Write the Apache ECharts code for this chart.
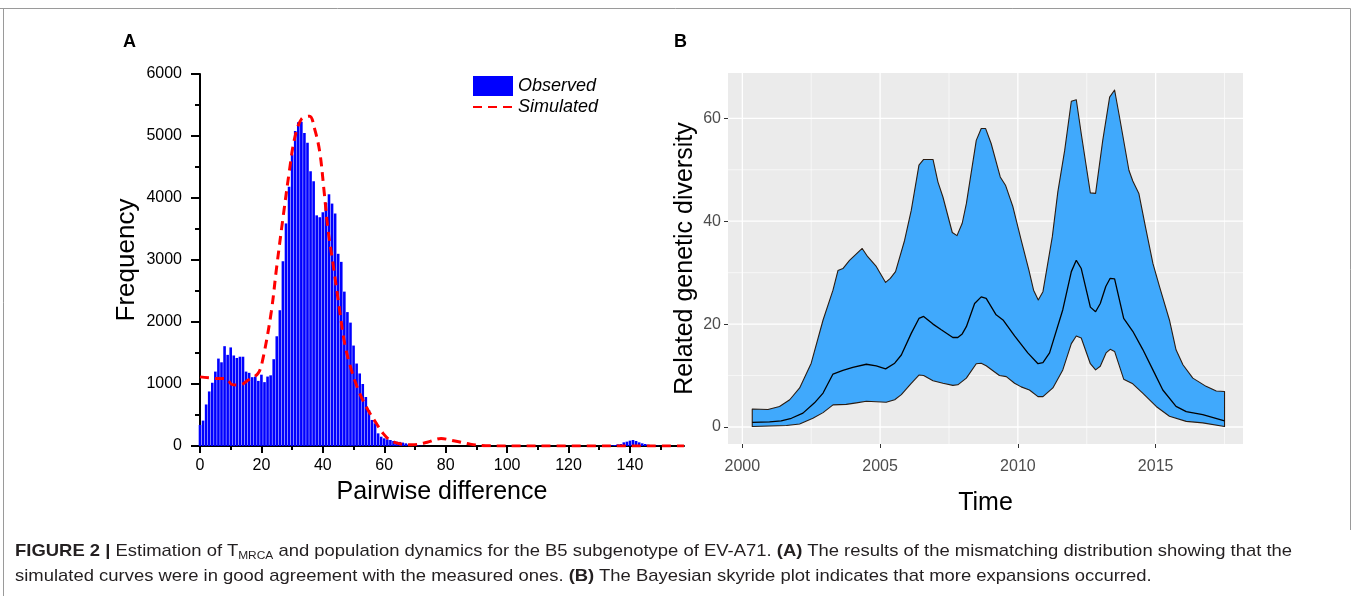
<!DOCTYPE html>
<html><head><meta charset="utf-8">
<script src="https://cdn.jsdelivr.net/npm/echarts@6/dist/echarts.min.js"></script>
<style>
html,body{margin:0;padding:0;background:#fff;width:1360px;height:596px;overflow:hidden;}
#chart{position:absolute;left:0;top:0;width:1360px;height:596px;}
.cap{position:absolute;left:15px;font-family:"Liberation Sans",Arial,sans-serif;font-size:17px;color:#231f20;white-space:nowrap;transform-origin:0 0;}
.cap sub{font-size:11px;vertical-align:-3px;line-height:0;}
</style></head><body>
<div id="chart"></div>
<div class="cap" id="cap1" style="top:541px"><b>FIGURE 2 |</b> Estimation of T<sub>MRCA</sub> and population dynamics for the B5 subgenotype of EV-A71. <b>(A)</b> The results of the mismatching distribution showing that the</div>
<div class="cap" id="cap2" style="top:566px">simulated curves were in good agreement with the measured ones. <b>(B)</b> The Bayesian skyride plot indicates that more expansions occurred.</div>
<script>
// ---------- Panel A data ----------
const pairwiseDiff = [0,1,2,3,4,5,6,7,8,9,10,11,12,13,14,15,16,17,18,19,20,21,22,23,24,25,26,27,28,29,30,31,32,33,34,35,36,37,38,39,40,41,42,43,44,45,46,47,48,49,50,51,52,53,54,55,56,57,58,59,60,61,62,63,64,65,66,67,68,69,70,71,72,
  133,134,135,136,137,138,139,140,141,142,143,144,145,146,147,148,149];
const observedFreq = [340,410,670,880,1020,1200,1410,1350,1610,1470,1590,1460,1420,1440,1440,1200,1180,1110,1120,1050,1150,1030,1120,1140,1400,1770,2190,2980,3590,4180,4700,5080,5220,5230,5050,4890,4430,4270,3720,3690,3770,3920,4060,3910,3750,3100,2970,2490,2160,1990,1620,1330,1170,1000,790,580,420,366,204,150,124,108,97,81,70,66,55,43,32,24,16,8,4,
  5,10,16,27,32,59,70,86,97,81,59,43,32,22,14,8,4];
const simDiff = [0,5,8.5,10.5,13,15.6,18.9,20.5,23.2,24.9,27,29.2,30.8,33,35.7,37.3,39,40.4,41.7,43.3,45,47.1,49.3,52,54.7,57.4,59.6,62,65,69,74,78.5,83,88,93,100,157.6];
const simFreq = [1115,1090,1085,990,985,1060,1170,1410,2160,2860,3670,4470,4960,5270,5320,5120,4740,4110,3480,2946,2355,1656,1226,849,581,366,204,90,35,20,60,120,80,30,5,0,0];
const diffMajorTicks = [0,20,40,60,80,100,120,140];
const diffMinorTicks = [10,30,50,70,90,110,130,150];

// ---------- Panel B data ----------
const upperYear = [2000.36,2000.93,2001.35,2001.72,2002.08,2002.5,2002.93,2003.29,2003.47,2003.65,2003.89,2004.35,2004.55,2004.86,2005.2,2005.37,2005.56,2005.89,2006.13,2006.41,2006.58,2006.92,2007.1,2007.28,2007.62,2007.79,2007.98,2008.13,2008.49,2008.67,2008.83,2009.03,2009.36,2009.55,2009.82,2010.12,2010.4,2010.57,2010.74,2010.91,2011.25,2011.45,2011.7,2011.94,2012.12,2012.3,2012.63,2012.82,2013.08,2013.33,2013.51,2013.69,2014.03,2014.17,2014.39,2014.63,2014.9,2015.14,2015.5,2015.74,2015.99,2016.35,2016.83,2017.2,2017.5];
const upperDiv  = [3.5,3.4,4.0,5.3,7.6,12.4,20.8,26.6,30.4,30.8,32.4,34.7,33.1,31.2,28.1,28.9,30.2,36.3,42.1,50.9,52.0,52.0,47.6,44.7,37.8,37.2,39.6,43.4,55.7,58.0,58.0,55.1,48.6,47.0,42.8,36.3,30.5,26.6,24.7,26.3,37.0,45.7,53.8,63.3,63.6,57.0,45.5,45.4,55.7,64.1,65.5,60.2,49.9,47.8,45.4,38.9,31.8,27.3,20.8,15.0,12.1,9.5,7.9,7.0,6.9];
const medianYear = [2000.36,2000.99,2001.41,2001.78,2002.2,2002.62,2002.93,2003.29,2003.65,2004.01,2004.5,2004.86,2005.2,2005.53,2005.77,2006.13,2006.41,2006.58,2006.92,2007.22,2007.64,2007.82,2007.98,2008.13,2008.43,2008.67,2008.85,2009.21,2009.46,2009.88,2010.36,2010.73,2010.91,2011.15,2011.63,2011.94,2012.12,2012.3,2012.63,2012.82,2012.99,2013.19,2013.35,2013.51,2013.84,2014.17,2014.53,2014.9,2015.26,2015.74,2016.11,2016.71,2017.5];
const medianDiv  = [0.9,1.0,1.2,1.7,2.7,4.7,6.6,10.3,11.0,11.6,12.2,11.9,11.3,12.4,14.0,18.2,21.1,21.5,20.0,18.9,17.4,17.4,18.1,19.5,24.0,25.3,25.0,21.8,20.8,17.7,14.4,12.3,12.5,14.4,22.8,30.2,32.4,30.8,23.3,22.4,24.0,27.3,28.9,28.8,21.1,18.6,15.1,11.1,7.2,4.0,3.0,2.4,1.2];
const lowerYear = [2000.36,2001.6,2002.08,2002.56,2002.93,2003.29,2003.77,2004.14,2004.5,2004.86,2005.22,2005.53,2005.77,2006.13,2006.41,2006.58,2006.92,2007.28,2007.64,2007.82,2008.13,2008.49,2008.67,2008.85,2009.33,2009.58,2009.88,2010.12,2010.42,2010.73,2010.91,2011.27,2011.63,2011.94,2012.12,2012.3,2012.63,2012.82,2012.99,2013.2,2013.35,2013.51,2013.84,2014.17,2014.53,2015.02,2015.5,2016.11,2016.71,2017.5];
const lowerDiv  = [0.1,0.3,0.6,1.7,2.8,4.3,4.4,4.7,5.0,4.9,4.8,5.3,6.3,8.5,10.1,10.0,9.0,8.5,8.1,8.2,9.5,12.3,12.4,11.9,10.0,9.8,8.5,7.8,7.2,5.9,5.9,7.6,11.1,16.2,17.7,17.3,12.3,11.1,11.8,14.4,15.1,14.7,9.3,8.4,6.6,4.0,2.1,1.1,0.8,0.1];
const yearMajor = [2000,2005,2010,2015];
const yearMinor = [2002.5,2007.5,2012.5,2017.5];
const divMajor = [0,20,40,60];
const divMinor = [10,30,50];

const FONT = '"Liberation Sans", Arial, Helvetica, sans-serif';
const plain = v => String(v);
const chart = echarts.init(document.getElementById('chart'), null, {renderer: 'canvas', width: 1360, height: 596});

// gridline items for panel B: [x, y, kind] kind 0 v-major, 1 v-minor, 2 h-major, 3 h-minor
const gridItems = [];
yearMajor.forEach(v => gridItems.push([v, 0, 0]));
yearMinor.forEach(v => gridItems.push([v, 0, 1]));
divMajor.forEach(v => gridItems.push([2005, v, 2]));
divMinor.forEach(v => gridItems.push([2005, v, 3]));

const option = {
  animation: false,
  textStyle: {fontFamily: FONT},
  grid: [
    {left: 200, top: 74, width: 484, height: 372, containLabel: false},
    {left: 728, top: 73, width: 515, height: 371, show: true, backgroundColor: '#EBEBEB', borderWidth: 0, containLabel: false}
  ],
  legend: {
    orient: 'vertical', left: 472, top: 76, padding: 0, itemWidth: 40, itemHeight: 20, itemGap: 1,
    textStyle: {fontSize: 18, fontStyle: 'italic', color: '#000', fontFamily: FONT, lineHeight: 20},
    data: [{name: 'Observed', icon: 'rect'}, {name: 'Simulated', itemStyle: {opacity: 0}}]
  },
  xAxis: [
    {gridIndex: 0, type: 'value', min: 0, max: 157.6, position: 'bottom',
     axisLine: {show: true, onZero: false, lineStyle: {color: '#000', width: 2}},
     axisTick: {show: true, customValues: diffMajorTicks, length: 7, lineStyle: {color: '#000', width: 2}},
     axisLabel: {customValues: diffMajorTicks, formatter: plain, fontSize: 16, color: '#000', margin: 12, fontFamily: FONT},
     splitLine: {show: false},
     name: 'Pairwise difference', nameLocation: 'middle', nameGap: 34,
     nameTextStyle: {fontSize: 25, color: '#000', fontFamily: FONT}},
    {gridIndex: 0, type: 'value', min: 0, max: 157.6, position: 'bottom',
     axisLine: {show: false, onZero: false},
     axisTick: {show: true, customValues: diffMinorTicks, length: 4, lineStyle: {color: '#000', width: 2}},
     axisLabel: {show: false}, splitLine: {show: false}},
    {gridIndex: 1, type: 'value', min: 1999.48, max: 2018.17, position: 'bottom',
     axisLine: {show: false, onZero: false},
     axisTick: {show: true, customValues: yearMajor, length: 4, lineStyle: {color: '#333', width: 1}},
     axisLabel: {customValues: yearMajor, formatter: plain, fontSize: 16, color: '#4D4D4D', margin: 15, fontFamily: FONT},
     splitLine: {show: false},
     name: 'Time', nameLocation: 'middle', nameGap: 47,
     nameTextStyle: {fontSize: 25, color: '#000', fontFamily: FONT}}
  ],
  yAxis: [
    {gridIndex: 0, type: 'value', min: 0, max: 6000, interval: 1000,
     axisLine: {show: true, onZero: false, lineStyle: {color: '#000', width: 2}},
     axisTick: {show: true, length: 9, lineStyle: {color: '#000', width: 2}},
     minorTick: {show: true, splitNumber: 2, length: 5, lineStyle: {color: '#000', width: 2}},
     axisLabel: {formatter: plain, fontSize: 16, color: '#000', margin: 18, fontFamily: FONT},
     splitLine: {show: false},
     name: 'Frequency', nameLocation: 'middle', nameRotate: 90, nameGap: 60,
     nameTextStyle: {fontSize: 26, color: '#000', fontFamily: FONT}},
    {gridIndex: 1, type: 'value', min: -3.3, max: 68.8,
     axisLine: {show: false, onZero: false},
     axisTick: {show: true, customValues: divMajor, length: 4, lineStyle: {color: '#333', width: 1}},
     axisLabel: {customValues: divMajor, formatter: plain, fontSize: 16, color: '#4D4D4D', margin: 7, fontFamily: FONT},
     splitLine: {show: false},
     name: 'Related genetic diversity', nameLocation: 'middle', nameRotate: 90, nameGap: 30,
     nameTextStyle: {fontSize: 25, color: '#000', fontFamily: FONT}}
  ],
  series: [
    {name: 'Observed', type: 'bar', xAxisIndex: 0, yAxisIndex: 0, barWidth: 2.6,
     itemStyle: {color: '#0000FF'}, z: 2,
     data: pairwiseDiff.map((d, i) => [d, observedFreq[i]])},
    {name: 'Simulated', type: 'line', xAxisIndex: 0, yAxisIndex: 0, smooth: 0.35,
     symbol: 'none', showSymbol: false, z: 3,
     lineStyle: {color: '#FF0000', width: 3, type: [9, 6]},
     itemStyle: {color: '#FF0000'},
     data: simDiff.map((d, i) => [d, simFreq[i]])},
    {name: 'gridB', type: 'custom', xAxisIndex: 2, yAxisIndex: 1, z: 1, silent: true,
     renderItem: function (params, api) {
       const cs = params.coordSys;
       const kind = api.value(2);
       const major = kind % 2 === 0;
       let shape;
       if (kind < 2) {
         const px = api.coord([api.value(0), 0])[0];
         shape = {x1: px, y1: cs.y, x2: px, y2: cs.y + cs.height};
       } else {
         const py = api.coord([2005, api.value(1)])[1];
         shape = {x1: cs.x, y1: py, x2: cs.x + cs.width, y2: py};
       }
       return {type: 'line', shape: shape, style: {stroke: '#FFFFFF', lineWidth: major ? 1.3 : 0.6}, silent: true};
     },
     data: gridItems},
    {name: 'band', type: 'custom', xAxisIndex: 2, yAxisIndex: 1, z: 3, silent: true,
     renderItem: function (params, api) {
       const pts = [];
       for (let i = 0; i < upperYear.length; i++) pts.push(api.coord([upperYear[i], upperDiv[i]]));
       for (let i = lowerYear.length - 1; i >= 0; i--) pts.push(api.coord([lowerYear[i], lowerDiv[i]]));
       return {type: 'polygon', shape: {points: pts},
               style: {fill: '#40A9FC', stroke: '#2a1c12', lineWidth: 1.1, lineJoin: 'round'}};
     },
     data: [[upperYear[0], upperDiv[0]]]},
    {name: 'median', type: 'line', xAxisIndex: 2, yAxisIndex: 1, z: 4, symbol: 'none', showSymbol: false,
     lineStyle: {color: '#000', width: 1.3}, silent: true,
     data: medianYear.map((d, i) => [d, medianDiv[i]])}
  ],
  graphic: [
    {type: 'line', shape: {x1: 0, y1: 8.5, x2: 1350.5, y2: 8.5}, style: {stroke: '#9a9a9a', lineWidth: 1}, silent: true},
    {type: 'line', shape: {x1: 3.5, y1: 8.5, x2: 3.5, y2: 596}, style: {stroke: '#9a9a9a', lineWidth: 1}, silent: true},
    {type: 'line', shape: {x1: 1350.5, y1: 8.5, x2: 1350.5, y2: 530}, style: {stroke: '#9a9a9a', lineWidth: 1}, silent: true},
    {type: 'text', left: 123, top: 33, style: {text: 'A', font: 'bold 18px ' + FONT, fill: '#000'}},
    {type: 'text', left: 674, top: 33, style: {text: 'B', font: 'bold 18px ' + FONT, fill: '#000'}}
  ]
};
chart.setOption(option);

// fit caption lines to the reference width
(function () {
  const c1 = document.getElementById('cap1'), c2 = document.getElementById('cap2');
  const s = 1277 / c1.offsetWidth;
  c1.style.transform = 'scaleX(' + s + ')';
  c2.style.transform = 'scaleX(' + s + ')';
})();
</script>
</body></html>
